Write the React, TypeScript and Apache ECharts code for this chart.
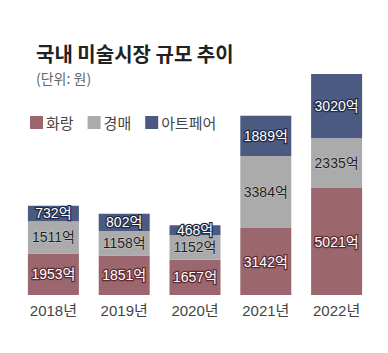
import React, { useEffect, useRef } from "react";
import * as echarts from "echarts";

const years = ["2018년", "2019년", "2020년", "2021년", "2022년"];
const gallery = [1953, 1851, 1657, 3142, 5021];
const auction = [1511, 1158, 1152, 3384, 2335];
const artFair = [732, 802, 468, 1889, 3020];
const seriesNames = ["화랑", "경매", "아트페어"];

const FONT = "'Liberation Sans', 'Noto Sans CJK KR', sans-serif";
const KFONT = "'Noto Sans CJK KR', sans-serif";

export default function App() {
  const ref = useRef<HTMLDivElement>(null);
  useEffect(() => {
    const chart = echarts.init(ref.current!, null, { renderer: "svg" });
    const mkLabel = (fill: string, stroke: string, sw: number) => ({
      show: true,
      position: "inside",
      formatter: (p: any) => `${p.value}억`,
      fontFamily: FONT,
      fontSize: 14,
      color: fill,
      textBorderColor: stroke,
      textBorderWidth: sw,
    });
    const total = gallery.map((v, i) => v + auction[i] + artFair[i]);
    chart.setOption({
      animation: false,
      title: [
        {
          text: "국내 미술시장 규모 추이",
          left: 31,
          top: 38,
          textStyle: { fontFamily: KFONT, fontSize: 20, fontWeight: "bold", color: "#222" },
        },
        {
          text: "(단위: 원)",
          left: 31,
          top: 66,
          textStyle: { fontFamily: KFONT, fontSize: 14, fontWeight: "normal", color: "#666" },
        },
      ],
      legend: {
        left: 25,
        top: 110,
        icon: "rect",
        itemWidth: 13,
        itemHeight: 13,
        itemGap: 14,
        data: seriesNames,
        textStyle: { fontFamily: KFONT, fontSize: 15, color: "#444", padding: [0, 0, 0, -2] },
      },
      grid: { left: 18, right: 16, top: 74, bottom: 58 },
      xAxis: {
        type: "category",
        data: years,
        axisLine: { show: false },
        axisTick: { show: false },
        axisLabel: { fontFamily: FONT, fontSize: 15, color: "#444", margin: 8 },
      },
      yAxis: {
        type: "value",
        min: 0,
        max: Math.max(...total),
        show: false,
        splitLine: { show: false },
      },
      series: [
        {
          name: seriesNames[0],
          type: "bar",
          stack: "t",
          barWidth: 51,
          data: gallery,
          itemStyle: { color: "#9b666d" },
          label: mkLabel("#fff", "#5e2c33", 2.5),
        },
        {
          name: seriesNames[1],
          type: "bar",
          stack: "t",
          data: auction,
          itemStyle: { color: "#ababab" },
          label: mkLabel("#1e1e1e", "rgba(255,255,255,0.35)", 1),
        },
        {
          name: seriesNames[2],
          type: "bar",
          stack: "t",
          data: artFair,
          itemStyle: { color: "#4b5a80" },
          label: mkLabel("#fff", "#1f2a48", 2.5),
        },
      ],
    });
    return () => chart.dispose();
  }, []);
  return <div ref={ref} style={{ width: 388, height: 353, position: "absolute", left: 0, top: 0 }} />;
}
